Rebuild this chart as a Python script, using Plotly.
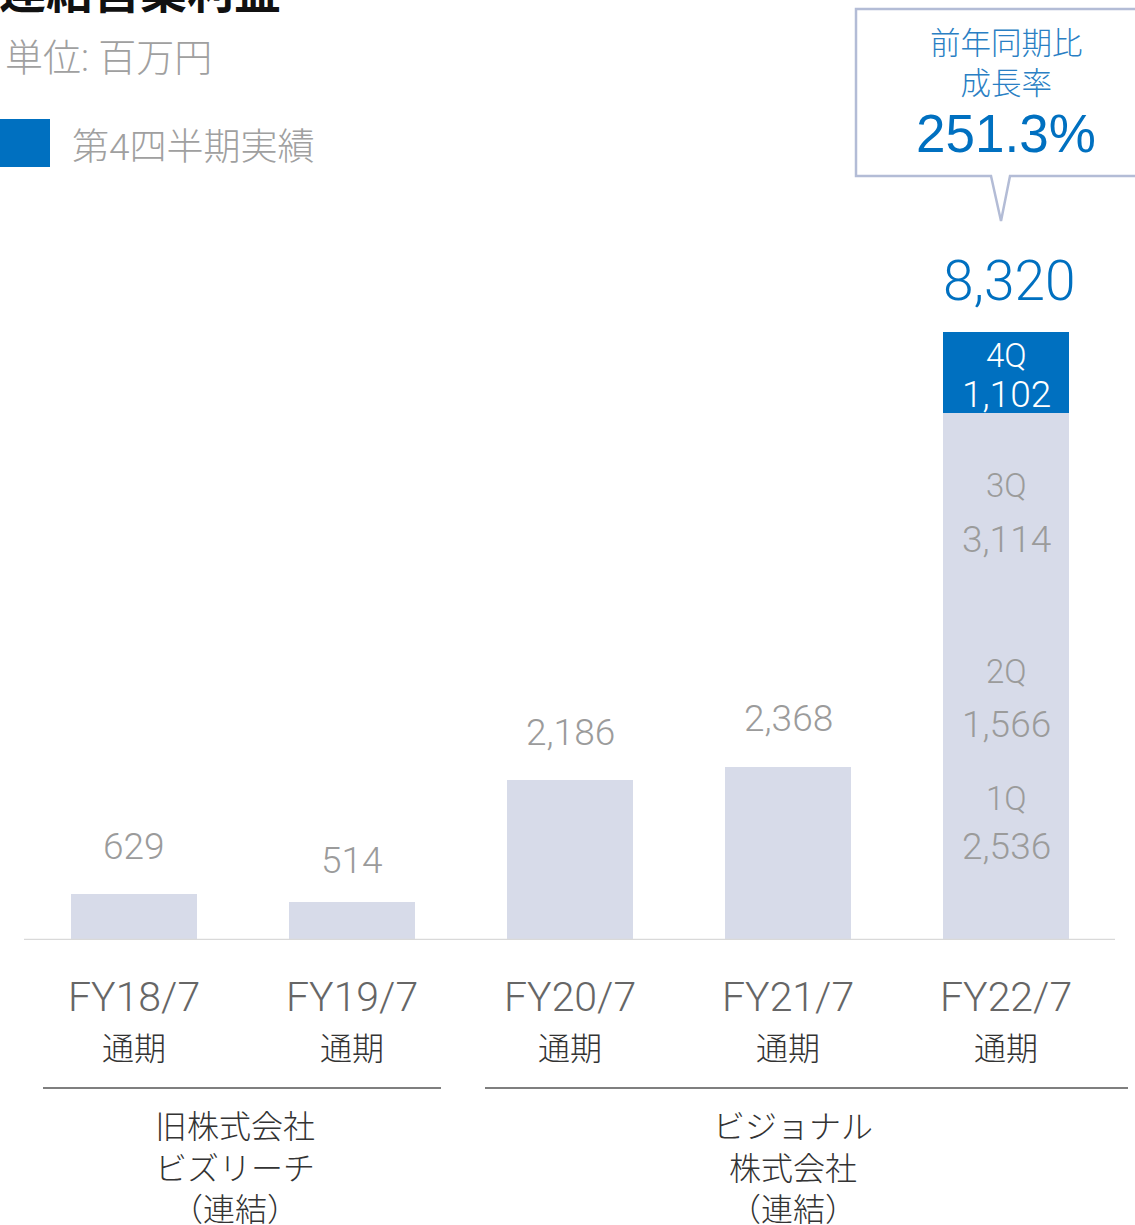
import plotly.graph_objects as go

# ---------------- data ----------------
categories = ["FY18/7", "FY19/7", "FY20/7", "FY21/7", "FY22/7"]
annual_categories = ["FY18/7", "FY19/7", "FY20/7", "FY21/7"]
annual_values = [629, 514, 2186, 2368]
annual_labels = ["629", "514", "2,186", "2,368"]
fy22_quarters = ["1Q", "2Q", "3Q", "4Q"]
fy22_values = [2536, 1566, 3114, 1102]
fy22_labels = ["2,536", "1,566", "3,114", "1,102"]
fy22_total_label = "8,320"
period_label = "通期"
growth_title = ["前年同期比", "成長率"]
growth_rate = "251.3%"
group_labels = [["旧株式会社", "ビズリーチ", "（連結）"], ["ビジョナル", "株式会社", "（連結）"]]
title = "連結営業利益"
unit = "単位: 百万円"
legend_label = "第4四半期実績"

# ---------------- style ----------------
W, H = 1135, 1225
LIGHT = "#d7dbe9"
BLUE = "#0070c0"
GRAY = "#9b9b9b"
LAT = "Roboto, 'Noto Sans CJK JP', sans-serif"
JP = "'Noto Sans CJK JP', sans-serif"


def px(x):
    return x / W


def py(y):
    return 1 - y / H


total = sum(fy22_values)
y_top = total * 740 / 608  # axis range so the full bar fits layout

fig = go.Figure()
fig.add_trace(go.Bar(x=annual_categories, y=annual_values, marker=dict(color=LIGHT, line=dict(width=0)),
                     hoverinfo="skip", showlegend=False))
for q, v in zip(fy22_quarters, fy22_values):
    fig.add_trace(go.Bar(x=["FY22/7"], y=[v], name=q,
                         marker=dict(color=BLUE if q == "4Q" else LIGHT, line=dict(width=0)),
                         hoverinfo="skip", showlegend=False))

ann = []
# value labels above annual bars
for c, v, t in zip(annual_categories, annual_values, annual_labels):
    ann.append(dict(x=c, y=v, xref="x", yref="y", text=t, showarrow=False, yanchor="middle",
                    yshift=48 if v > 600 else 42, font=dict(family=LAT, size=37, color=GRAY, weight=300)))
# total label
ann.append(dict(x="FY22/7", y=total, xref="x", yref="y", text=fy22_total_label, showarrow=False,
                yanchor="middle", yshift=51, xshift=3, font=dict(family=LAT, size=55, color=BLUE, weight=300)))
# quarter labels inside stacked bar
cum = 0
tops = []
for v in fy22_values:
    cum += v
    tops.append(cum)
q_offsets = {"1Q": (44, 92), "2Q": (31, 84), "3Q": (73, 127), "4Q": (24, 63)}
for q, top, lab in zip(fy22_quarters, tops, fy22_labels):
    col = "white" if q == "4Q" else GRAY
    o1, o2 = q_offsets[q]
    ann.append(dict(x="FY22/7", y=top, xref="x", yref="y", text=q, showarrow=False, yanchor="middle",
                    yshift=-o1, font=dict(family=LAT, size=33, color=col, weight=300)))
    ann.append(dict(x="FY22/7", y=top, xref="x", yref="y", text=lab, showarrow=False, yanchor="middle",
                    yshift=-o2, font=dict(family=LAT, size=37, color=col, weight=300)))
# category labels
for c in categories:
    ann.append(dict(x=c, y=py(997), xref="x", yref="paper", text=c, showarrow=False, yanchor="middle",
                    font=dict(family=LAT, size=41, color="#666666", weight=300)))
    ann.append(dict(x=c, y=py(1046), xref="x", yref="paper", text=period_label, showarrow=False,
                    yanchor="middle", font=dict(family=JP, size=32, color="#333333", weight=300)))
# group labels (three lines each)
for cx, lines in zip([235, 793], group_labels):
    ann.append(dict(x=px(cx), y=py(1099), xref="paper", yref="paper", text="<br>".join(lines),
                    showarrow=False, yanchor="top", xanchor="center", align="center",
                    font=dict(family=JP, size=32, color="#333333", weight=300)))
# title / unit / legend
ann.append(dict(x=px(-3), y=py(24), xref="paper", yref="paper", text="<b>" + title + "</b>", showarrow=False,
                xanchor="left", yanchor="bottom", font=dict(family=JP, size=47, color="#111111")))
ann.append(dict(x=px(3), y=py(58), xref="paper", yref="paper", text=unit, showarrow=False,
                xanchor="left", yanchor="middle", font=dict(family=LAT, size=38, color="#a0a0a0", weight=300)))
ann.append(dict(x=px(70), y=py(147), xref="paper", yref="paper", text=legend_label, showarrow=False,
                xanchor="left", yanchor="middle", font=dict(family=LAT, size=37, color="#a0a0a0", weight=300)))
# callout text
ann.append(dict(x=px(1006), y=py(60.5), xref="paper", yref="paper", text="<br>".join(growth_title),
                showarrow=False, xanchor="center", yanchor="middle", align="center",
                font=dict(family=JP, size=30.5, color="#2a7fc4", weight=300)))
ann.append(dict(x=px(1006), y=py(134), xref="paper", yref="paper", text=growth_rate, showarrow=False,
                xanchor="center", yanchor="middle",
                font=dict(family="Liberation Sans, Arial, sans-serif", size=53, color=BLUE)))

shapes = []
# baseline
shapes.append(dict(type="line", xref="paper", yref="y", x0=px(24), x1=px(1115), y0=0, y1=0,
                   line=dict(color="#d9d9d9", width=2.5), layer="above"))
# group separator lines
shapes.append(dict(type="line", xref="paper", yref="paper", x0=px(43), x1=px(441), y0=py(1088), y1=py(1088),
                   line=dict(color="#555555", width=1.5)))
shapes.append(dict(type="line", xref="paper", yref="paper", x0=px(485), x1=px(1128), y0=py(1088), y1=py(1088),
                   line=dict(color="#555555", width=1.5)))
# legend swatch
shapes.append(dict(type="rect", xref="paper", yref="paper", x0=px(0), x1=px(50), y0=py(167), y1=py(119),
                   fillcolor=BLUE, line=dict(width=0)))
# callout bubble
pts = [(856, 9), (1140, 9), (1140, 176), (1010, 176), (1001, 221), (991, 176), (856, 176)]
path = "M " + " L ".join(f"{px(x):.5f},{py(y):.5f}" for x, y in pts) + " Z"
shapes.append(dict(type="path", xref="paper", yref="paper", path=path, fillcolor="white",
                   line=dict(color="#b3bcd6", width=2.5)))

fig.update_layout(
    width=W, height=H, autosize=False,
    margin=dict(l=0, r=0, t=0, b=0, pad=0),
    paper_bgcolor="white", plot_bgcolor="white",
    barmode="stack", bargap=0.42,
    xaxis=dict(domain=[px(25), px(1115)], type="category", categoryorder="array", categoryarray=categories,
               showticklabels=False, showgrid=False, zeroline=False, showline=False, fixedrange=True),
    yaxis=dict(domain=[py(940), py(200)], range=[0, y_top], visible=False, showgrid=False,
               zeroline=False, fixedrange=True),
    annotations=ann, shapes=shapes, showlegend=False,
)

fig.write_html("out.html", config={"displayModeBar": False},
               post_script="document.body.style.margin='0px';document.body.style.overflow='hidden';")
